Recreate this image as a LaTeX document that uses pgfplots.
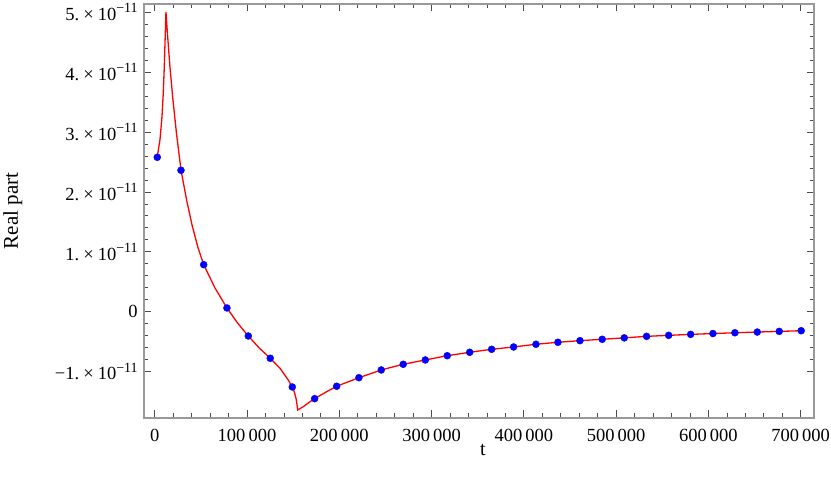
\documentclass[border=0pt]{standalone}
\usepackage{pgfplots}
\pgfplotsset{compat=1.18}
\usepackage{fontspec}
\setmainfont{Liberation Serif}

\newcommand{\sci}[1]{#1.\hspace{0.22em}×\hspace{0.22em}10\raisebox{0.42em}{\fontsize{14}{14}\selectfont −11}}

\begin{document}
\fontsize{18.5}{22}\selectfont
\begin{tikzpicture}
\path[use as bounding box] (-144pt,-63pt) rectangle (687pt,418pt);
\begin{axis}[
    at={(0pt,0pt)}, anchor=south west,
    scale only axis, width=670pt, height=414pt,
    xmin=-11590, xmax=714400,
    ymin=-1.775e-11, ymax=5.137e-11,
    scaled x ticks=false, scaled y ticks=false,
    xtick={0,100000,200000,300000,400000,500000,600000,700000},
    xticklabels={0,100\,000,200\,000,300\,000,400\,000,500\,000,600\,000,700\,000},
    ytick={-1e-11,0,1e-11,2e-11,3e-11,4e-11,5e-11},
    yticklabels={\sci{−1},0,\sci{1},\sci{2},\sci{3},\sci{4},\sci{5}},
    minor x tick num=4, minor y tick num=4,
    tick align=inside, xtick pos=both, ytick pos=both,
    xticklabel pos=lower, yticklabel pos=left,
    major tick length=7.5pt, minor tick length=4.5pt,
    tick style={black!70, line width=0.7pt},
    axis line style={draw=black!40, line width=1.1pt},
    xticklabel style={anchor=base, yshift=-23.5pt},
    xlabel={t}, ylabel={Real part},
    every axis x label/.style={at={(axis description cs:0.506,-0.0918)}, anchor=base, font=\fontsize{20}{24}\selectfont},
    every axis y label/.style={at={(axis description cs:-0.2104,0.5)}, anchor=north, rotate=90, inner sep=0pt, font=\fontsize{21}{25}\selectfont},
]

% red curve
\addplot[red, line width=1.3pt] coordinates {
    (2800,2.588e-11) (5700,2.866e-11) (7900,3.255e-11) (9300,3.651e-11)
    (10400,4.090e-11) (11500,4.648e-11) (12200,5.003e-11) (13800,4.648e-11)
    (16500,4.090e-11) (19800,3.534e-11) (23600,2.978e-11) (28500,2.366e-11)
    (34700,1.855e-11) (40700,1.431e-11) (46900,1.070e-11) (53100,0.785e-11)
    (65300,0.396e-11) (78300,0.062e-11) (89800,-0.189e-11) (101400,-0.406e-11)
    (113300,-0.606e-11) (125200,-0.778e-11) (135800,-0.945e-11) (144700,-1.140e-11)
    (149100,-1.257e-11) (151200,-1.336e-11) (153100,-1.447e-11) (154300,-1.558e-11)
    (154900,-1.641e-11) (161000,-1.586e-11) (168300,-1.503e-11) (173300,-1.452e-11)
    (186300,-1.336e-11) (197200,-1.245e-11) (221300,-1.102e-11) (245500,-0.973e-11)
    (269300,-0.878e-11) (293200,-0.806e-11) (317000,-0.735e-11) (341300,-0.678e-11)
    (365100,-0.628e-11) (388900,-0.589e-11) (413100,-0.544e-11) (436900,-0.511e-11)
    (460800,-0.484e-11) (484900,-0.461e-11) (508800,-0.437e-11) (533000,-0.412e-11)
    (556900,-0.395e-11) (580700,-0.379e-11) (604900,-0.365e-11) (628700,-0.352e-11)
    (652900,-0.340e-11) (676700,-0.329e-11) (700500,-0.318e-11)
};

% blue points
\addplot[only marks, mark=*, mark size=3.5pt, blue, mark options={draw=blue, fill=blue}] coordinates {
    (2800,2.578e-11) (28500,2.361e-11) (53100,0.785e-11) (78300,0.062e-11)
    (101400,-0.406e-11) (125200,-0.778e-11) (149100,-1.257e-11) (173300,-1.452e-11)
    (197200,-1.245e-11) (221300,-1.102e-11) (245500,-0.973e-11) (269300,-0.878e-11)
    (293200,-0.806e-11) (317000,-0.735e-11) (341300,-0.678e-11) (365100,-0.628e-11)
    (388900,-0.589e-11) (413100,-0.544e-11) (436900,-0.511e-11) (460800,-0.484e-11)
    (484900,-0.461e-11) (508800,-0.437e-11) (533000,-0.412e-11) (556900,-0.395e-11)
    (580700,-0.379e-11) (604900,-0.365e-11) (628700,-0.352e-11) (652900,-0.340e-11)
    (676700,-0.329e-11) (700500,-0.318e-11)
};

\end{axis}
\end{tikzpicture}
\end{document}
